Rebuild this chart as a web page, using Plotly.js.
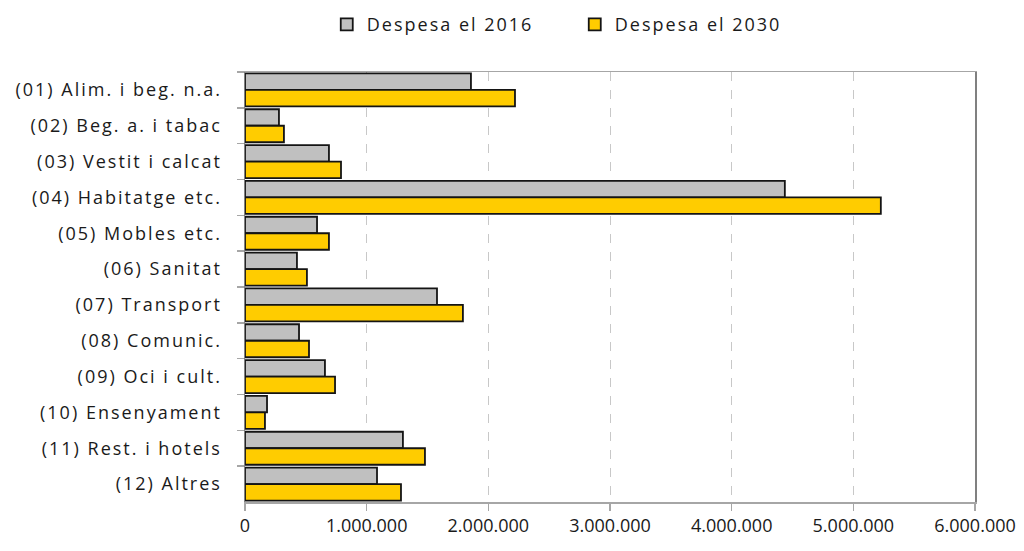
<!DOCTYPE html>
<html>
<head>
<meta charset="utf-8">
<script src="https://cdn.plot.ly/plotly-3.0.1.min.js"></script>
<style>
html,body{margin:0;padding:0;background:#fff;}
#chart{width:1024px;height:551px;}
#chart .ytick text, #chart .legendtext { letter-spacing: 2px; }
</style>
</head>
<body>
<div id="chart"></div>
<script>
const categories = [
  "(01) Alim. i beg. n.a.",
  "(02) Beg. a. i tabac",
  "(03) Vestit i calcat",
  "(04) Habitatge etc.",
  "(05) Mobles etc.",
  "(06) Sanitat",
  "(07) Transport",
  "(08) Comunic.",
  "(09) Oci i cult.",
  "(10) Ensenyament",
  "(11) Rest. i hotels",
  "(12) Altres"
];
const despesa2016 = [1857000, 279000, 690000, 4437000, 592000, 427000, 1578000, 444000, 657000, 181000, 1298000, 1085000];
const despesa2030 = [2219000, 320000, 789000, 5226000, 690000, 509000, 1791000, 526000, 740000, 164000, 1479000, 1282000];
const seriesNames = ["Despesa el 2016", "Despesa el 2030"];

const fontFamily = "Open Sans, sans-serif";

const traces = [
  {
    type: "bar", orientation: "h", name: seriesNames[0],
    y: categories, x: despesa2016,
    marker: {color: "#C0C0C0", line: {color: "#141414", width: 1.8}},
    hoverinfo: "x+y"
  },
  {
    type: "bar", orientation: "h", name: seriesNames[1],
    y: categories, x: despesa2030,
    marker: {color: "#FFCC00", line: {color: "#141414", width: 1.8}},
    hoverinfo: "x+y"
  }
];

const layout = {
  width: 1024, height: 551,
  margin: {l: 245, r: 49, t: 72, b: 49, pad: 0, autoexpand: false},
  paper_bgcolor: "#fff", plot_bgcolor: "#fff",
  font: {family: fontFamily, size: 18, color: "#1a1a1a"},
  separators: ",.",
  barmode: "group",
  bargap: 0.08,
  bargroupgap: 0,
  showlegend: true,
  legend: {
    orientation: "h", x: 0.112, xanchor: "left", y: 1.11, yanchor: "middle",
    traceorder: "normal",
    font: {family: fontFamily, size: 18, color: "#1a1a1a"},
    itemwidth: 30,
    entrywidth: 203, entrywidthmode: "pixels"
  },
  xaxis: {
    range: [0, 6000000], dtick: 1000000, tick0: 0,
    tickformat: ",d", tickangle: 0, automargin: false,
    showgrid: true, gridcolor: "#c8c8c8", griddash: "dash", gridwidth: 1,
    zeroline: false,
    showline: true, linecolor: "#a6a6a6", linewidth: 1.5, mirror: true,
    ticks: "outside", ticklen: 7, tickcolor: "#a6a6a6", tickwidth: 1.5,
    tickfont: {family: fontFamily, size: 18, color: "#1a1a1a"},
    fixedrange: true
  },
  yaxis: {
    type: "category",
    autorange: "reversed", automargin: false,
    showgrid: false, zeroline: false,
    showline: true, linecolor: "#808080", linewidth: 1.5, mirror: true,
    ticks: "outside", tickson: "boundaries", ticklen: 7, tickcolor: "#a6a6a6", tickwidth: 1.5,
    ticklabelstandoff: 18,
    tickfont: {family: fontFamily, size: 18, color: "#1a1a1a"},
    fixedrange: true
  }
};

Plotly.newPlot("chart", traces, layout, {displayModeBar: false, staticPlot: true});
</script>
</body>
</html>
